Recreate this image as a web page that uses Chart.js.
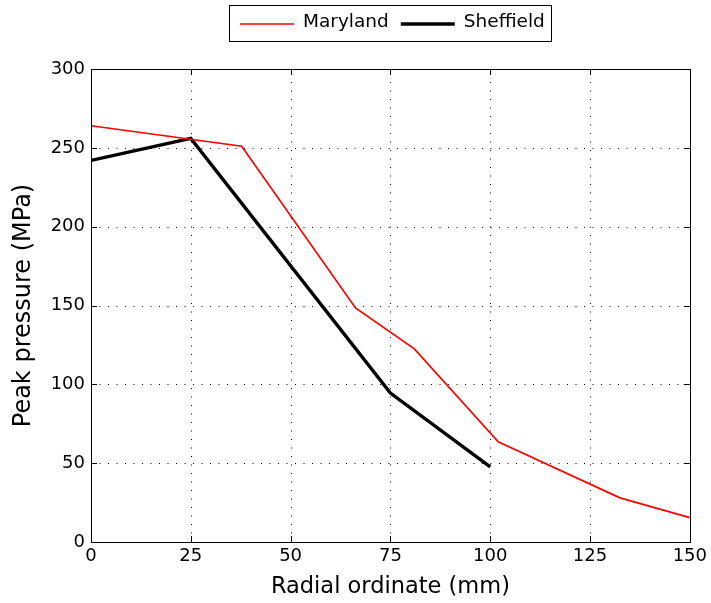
<!DOCTYPE html>
<html>
<head>
<meta charset="utf-8">
<script src="https://cdn.jsdelivr.net/npm/chart.js@4"></script>
<style>
html,body{margin:0;padding:0;background:#fff;}
#wrap{width:711px;height:603px;}
</style>
</head>
<body>
<div id="wrap"><canvas id="c" width="711" height="603"></canvas></div>
<script>
const marylandX = [0, 37.75, 66.25, 81, 102, 132.5, 150];
const marylandY = [264, 251, 148.5, 122.5, 63.5, 28, 15.5];
const sheffieldX = [0, 25, 75, 100];
const sheffieldY = [242, 256, 94.5, 47.6];
const seriesNames = ['Maryland', 'Sheffield'];
const xTicks = [0, 25, 50, 75, 100, 125, 150];
const yTicks = [0, 50, 100, 150, 200, 250, 300];
const xTitle = 'Radial ordinate (mm)';
const yTitle = 'Peak pressure (MPa)';

const FONT = 'DejaVu Sans, Liberation Sans, Arial, sans-serif';

const toPts = (xs, ys) => xs.map((x, i) => ({x: x, y: ys[i]}));

const frame = {
  id: 'frame',
  beforeDatasetsDraw(chart) {
    const {ctx, chartArea: a, scales: {x, y}} = chart;
    ctx.save();
    ctx.strokeStyle = '#000';
    ctx.lineWidth = 1;
    ctx.setLineDash([1, 7.5]);
    xTicks.forEach(v => {
      if (v === xTicks[0] || v === xTicks[xTicks.length - 1]) return;
      const px = Math.round(x.getPixelForValue(v)) + 0.5;
      ctx.beginPath(); ctx.moveTo(px, a.bottom); ctx.lineTo(px, a.top); ctx.stroke();
    });
    yTicks.forEach(v => {
      if (v === yTicks[0] || v === yTicks[yTicks.length - 1]) return;
      const py = Math.round(y.getPixelForValue(v)) + 0.5;
      ctx.beginPath(); ctx.moveTo(a.left, py); ctx.lineTo(a.right, py); ctx.stroke();
    });
    ctx.restore();
  },
  afterDraw(chart) {
    const {ctx, chartArea: a, scales: {x, y}} = chart;
    ctx.save();
    ctx.strokeStyle = '#000';
    ctx.lineWidth = 1;
    ctx.setLineDash([]);
    ctx.strokeRect(Math.round(a.left) + 0.5, Math.round(a.top) + 0.5, Math.round(a.right - a.left), Math.round(a.bottom - a.top));
    const t = 6;
    xTicks.forEach(v => {
      const px = Math.round(x.getPixelForValue(v)) + 0.5;
      ctx.beginPath();
      ctx.moveTo(px, a.bottom); ctx.lineTo(px, a.bottom - t);
      ctx.moveTo(px, a.top); ctx.lineTo(px, a.top + t);
      ctx.stroke();
    });
    yTicks.forEach(v => {
      const py = Math.round(y.getPixelForValue(v)) + 0.5;
      ctx.beginPath();
      ctx.moveTo(a.left, py); ctx.lineTo(a.left + t, py);
      ctx.moveTo(a.right, py); ctx.lineTo(a.right - t, py);
      ctx.stroke();
    });
    // legend
    const ds = chart.data.datasets;
    ctx.font = '18.5px ' + FONT;
    const lineLen = 54, gap1 = 9, gap2 = 12, padL = 10, padR = 7;
    let total = padL;
    const widths = ds.map(d => ctx.measureText(d.label).width);
    ds.forEach((d, i) => { total += lineLen + gap1 + widths[i] + (i < ds.length - 1 ? gap2 : 0); });
    total += padR;
    const boxLeft = 229;
    const boxTop = 5, boxH = 36;
    ctx.strokeStyle = '#000';
    ctx.lineWidth = 1;
    ctx.strokeRect(boxLeft + 0.5, boxTop + 0.5, Math.round(total), boxH);
    let cx = boxLeft + padL + 1;
    const cy = boxTop + boxH / 2 + 1;
    ds.forEach((d, i) => {
      ctx.strokeStyle = d.borderColor;
      ctx.lineWidth = d.borderWidth;
      ctx.beginPath(); ctx.moveTo(cx, cy); ctx.lineTo(cx + lineLen, cy); ctx.stroke();
      cx += lineLen + gap1;
      ctx.fillStyle = '#000';
      ctx.textBaseline = 'middle';
      ctx.textAlign = 'left';
      ctx.fillText(d.label, cx, cy - 2);
      cx += widths[i] + gap2;
    });
    ctx.restore();
  }
};

new Chart(document.getElementById('c'), {
  type: 'line',
  data: {
    datasets: [
      {label: seriesNames[0], data: toPts(marylandX, marylandY), borderColor: '#ff0000', borderWidth: 1.7, pointRadius: 0, fill: false, tension: 0},
      {label: seriesNames[1], data: toPts(sheffieldX, sheffieldY), borderColor: '#000000', borderWidth: 3.4, pointRadius: 0, fill: false, tension: 0}
    ]
  },
  options: {
    responsive: false,
    animation: false,
    layout: {padding: {top: 69, right: 20, left: 0, bottom: 0}},
    plugins: {legend: {display: false}, tooltip: {enabled: false}},
    scales: {
      x: {
        type: 'linear', min: 0, max: 150,
        afterBuildTicks: s => { s.ticks = xTicks.map(v => ({value: v})); },
        afterFit: s => { s.height = 61; },
        grid: {display: false, drawTicks: false},
        border: {display: false},
        ticks: {color: '#000', font: {family: FONT, size: 18}, padding: 4, maxRotation: 0},
        title: {display: true, text: xTitle, color: '#000', font: {family: FONT, size: 22.5}, padding: {top: 0, bottom: 2}}
      },
      y: {
        type: 'linear', min: 0, max: 300,
        afterBuildTicks: s => { s.ticks = yTicks.map(v => ({value: v})); },
        afterFit: s => { s.width = 91; },
        grid: {display: false, drawTicks: false},
        border: {display: false},
        ticks: {color: '#000', font: {family: FONT, size: 18}, padding: 6},
        title: {display: true, text: yTitle, color: '#000', font: {family: FONT, size: 24}, padding: {top: 9, bottom: 0}}
      }
    }
  },
  plugins: [frame]
});
</script>
</body>
</html>
